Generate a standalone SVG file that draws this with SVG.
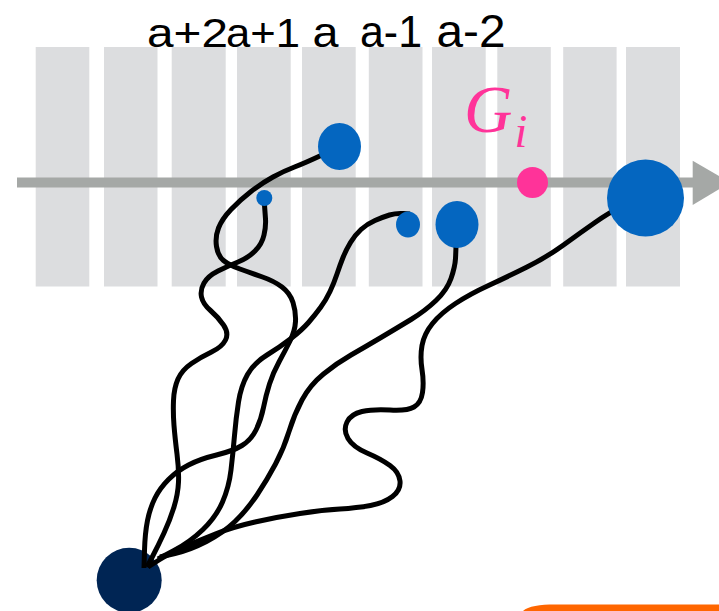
<svg xmlns="http://www.w3.org/2000/svg" width="719" height="611" viewBox="0 0 719 611">
<style>
.strip{fill:#DCDDDF}
.lbl{font-family:"Liberation Sans",Arial,sans-serif;fill:#000}
.blue{fill:#0466C0}
.wire{fill:none;stroke:#000;stroke-width:5;stroke-linecap:butt;stroke-linejoin:round}
</style>
<rect width="719" height="611" fill="#fff"/>
<g id="strips">
<rect class="strip" x="35.7" y="47" width="53.6" height="239.5"/>
<rect class="strip" x="104" y="47" width="53.5" height="239.5"/>
<rect class="strip" x="171.7" y="47" width="54" height="239.5"/>
<rect class="strip" x="237" y="47" width="53.7" height="239.5"/>
<rect class="strip" x="302" y="47" width="53.7" height="239.5"/>
<rect class="strip" x="368.8" y="47" width="53.7" height="239.5"/>
<rect class="strip" x="432" y="47" width="53.7" height="239.5"/>
<rect class="strip" x="497.3" y="47" width="53.5" height="239.5"/>
<rect class="strip" x="563.2" y="47" width="53.4" height="239.5"/>
<rect class="strip" x="626" y="47" width="54" height="239.5"/>
</g>
<g id="labels">
<text class="lbl" x="147" y="46.5" font-size="40" textLength="81" lengthAdjust="spacingAndGlyphs">a+2</text>
<text class="lbl" x="226" y="46.5" font-size="40" textLength="74" lengthAdjust="spacingAndGlyphs">a+1</text>
<text class="lbl" x="312.5" y="46.5" font-size="42" textLength="26" lengthAdjust="spacingAndGlyphs">a</text>
<text class="lbl" x="360" y="46.5" font-size="44" textLength="62" lengthAdjust="spacingAndGlyphs">a-1</text>
<text class="lbl" x="436.5" y="46.5" font-size="46" textLength="69" lengthAdjust="spacingAndGlyphs">a-2</text>
</g>
<g id="axis">
<rect x="17" y="177.5" width="678" height="10" fill="#A5A8A6"/>
<polygon points="692.7,160.7 730.4,182.5 692.7,205" fill="#A5A8A6"/>
</g>
<g id="Gi-label">
<text x="464" y="131.5" font-family="'Liberation Serif','Times New Roman',serif" font-style="italic" fill="#FF3399" font-size="67">G<tspan dx="2" dy="15" font-size="46">i</tspan></text>
</g>
<g id="source">
<circle cx="129.2" cy="580.2" r="32.5" fill="#002554"/>
</g>
<g id="connectors">
<path class="wire" d="M339,147 L322,155 Q305,163 294.5,167 Q284,171 273,177 Q262,183 251,191.5 Q240,200 231,209.5 Q222,219 218.5,228 Q215,237 216.5,246.5 Q218,256 223.5,260.5 Q229,265 240,269 Q251,273 262.5,277 Q274,281 282,287 Q290,293 293,302.5 Q296,312 295.5,321.5 Q295,331 290,341 Q285,351 279,362 Q273,373 269.5,384 Q266,395 263.5,407.5 Q261,420 256,430 Q251,440 242,445.5 Q233,451 216.5,455 Q200,459 188.5,465 Q177,471 168.5,479.5 Q160,488 155,498 Q150,508 147.5,520.5 Q145,533 144.5,550.5 L144,568"/>
<path class="wire" d="M264,198 L264.5,205 Q265,212 265.5,219 Q266,226 264,235 Q262,244 255,251 Q248,258 238,262 Q228,266 218,271 Q208,276 204,283 Q200,290 201.5,297 Q203,304 210.5,310.5 Q218,317 223.5,325 Q229,333 225.5,340 Q222,347 211.5,352 Q201,357 191.5,363.5 Q182,370 178,379 Q174,388 173.5,400.5 Q173,413 174,425.5 Q175,438 177,454 Q179,470 178.5,482 Q178,494 174,507 Q170,520 164,533 Q158,546 152.5,556.5 L147,567"/>
<path class="wire" d="M410,214 L403,213.5 Q396,213 389.5,215 Q383,217 375,220.5 Q367,224 361,229.5 Q355,235 350.5,242.5 Q346,250 343,257.5 Q340,265 337,274 Q334,283 330,291.5 Q326,300 320.5,307.5 Q315,315 308.5,322.5 Q302,330 291,338.5 Q280,347 267,355 Q254,363 247.5,374.5 Q241,386 238.5,402 Q236,418 234.5,435.5 Q233,453 231,470 Q229,487 222.5,502 Q216,517 203,529.5 Q190,542 174,550.5 L158,559"/>
<path class="wire" d="M456,235 L456,242.5 Q456,250 455.5,258.5 Q455,267 451,278.5 Q447,290 436,300.5 Q425,311 411,319.5 Q397,328 381,337.5 Q365,347 351,355 Q337,363 323.5,374 Q310,385 302,400 Q294,415 289,431.5 Q284,448 275.5,464 Q267,480 257,495 Q247,510 235,521.5 Q223,533 206.5,541.5 Q190,550 175,553.5 L160,557"/>
<path class="wire" d="M630,203 L620,207.5 Q610,212 595,222.5 Q580,233 563.5,245 Q547,257 527,267 Q507,277 488.5,285.5 Q470,294 455.5,303.5 Q441,313 432.5,323.5 Q424,334 422,345.5 Q420,357 422,369.5 Q424,382 422.5,392.5 Q421,403 414,407 Q407,411 390,410 Q373,409 362,411.5 Q351,414 347,422 Q343,430 348,438.5 Q353,447 367,453 Q381,459 390,465.5 Q399,472 400,481 Q401,490 392.5,496.5 Q384,503 370.5,505.5 Q357,508 340,509 Q323,510 300,513.5 Q277,517 255,522 Q233,527 216.5,533.5 Q200,540 185,546.5 Q170,553 159,560 L148,567"/>
</g>
<g id="node-top"><ellipse class="blue" cx="339.5" cy="146.5" rx="21.5" ry="23.5"/></g>
<g id="node-small"><circle class="blue" cx="264.3" cy="198" r="8"/></g>
<g id="node-mid"><ellipse class="blue" cx="408" cy="224.5" rx="12" ry="13"/></g>
<g id="node-right"><ellipse class="blue" cx="457" cy="224.5" rx="21.5" ry="23.5"/></g>
<g id="node-end"><circle class="blue" cx="645.5" cy="198" r="38.5"/></g>
<g id="node-Gi"><circle cx="532.5" cy="182.5" r="15.5" fill="#FF3399"/></g>
<g id="orange-box"><path d="M523,611 C528,606 540,604.5 555,604.5 L719,604.5 L719,611 Z" fill="#FF6600"/></g>
</svg>
